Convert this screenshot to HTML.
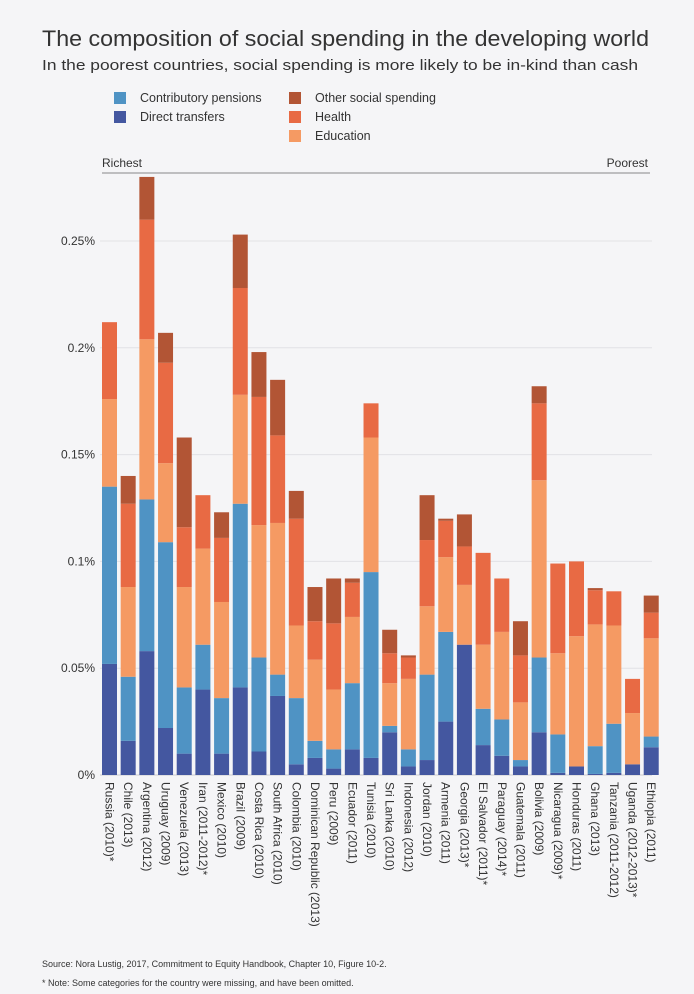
<!DOCTYPE html>
<html><head><meta charset="utf-8"><style>
html,body{margin:0;padding:0;background:#f5f5f7;}
body{width:694px;height:994px;position:relative;overflow:hidden;font-family:"Liberation Sans",sans-serif;color:#333;}
</style></head><body>
<svg width="694" height="994" xmlns="http://www.w3.org/2000/svg" id="chart" style="position:absolute;left:0;top:0">
<rect width="694" height="994" fill="#f5f5f7"/>
<text x="42" y="46" font-size="22" fill="#333" textLength="607" lengthAdjust="spacingAndGlyphs">The composition of social spending in the developing world</text>
<text x="42" y="70" font-size="14.5" fill="#333" textLength="596" lengthAdjust="spacingAndGlyphs">In the poorest countries, social spending is more likely to be in-kind than cash</text>
<g font-size="12.5" fill="#333">
<g><rect x="114" y="92" width="12" height="12" fill="#4f93c4"/><text x="140" y="102">Contributory pensions</text></g>
<g><rect x="114" y="111" width="12" height="12" fill="#4457a0"/><text x="140" y="121">Direct transfers</text></g>
<g><rect x="289" y="92" width="12" height="12" fill="#b25535"/><text x="315" y="102">Other social spending</text></g>
<g><rect x="289" y="111" width="12" height="12" fill="#e86a44"/><text x="315" y="121">Health</text></g>
<g><rect x="289" y="130" width="12" height="12" fill="#f59a63"/><text x="315" y="140">Education</text></g>
</g>
<text x="102" y="167" font-size="12" fill="#333">Richest</text>
<text x="648" y="167" font-size="12" fill="#333" text-anchor="end">Poorest</text>
<line x1="102" y1="173" x2="650" y2="173" stroke="#888" stroke-width="1"/>
<g id="grid"></g><g id="bars"></g><g id="xlabels"></g>
<text x="42" y="967" font-size="9" fill="#333">Source: Nora Lustig, 2017, Commitment to Equity Handbook, Chapter 10, Figure 10-2.</text>
<text x="42" y="986" font-size="9" fill="#333">* Note: Some categories for the country were missing, and have been omitted.</text>
</svg>
<script>
const categories=["Russia (2010)*","Chile (2013)","Argentina (2012)","Uruguay (2009)","Venezuela (2013)","Iran (2011-2012)*","Mexico (2010)","Brazil (2009)","Costa Rica (2010)","South Africa (2010)","Colombia (2010)","Dominican Republic (2013)","Peru (2009)","Ecuador (2011)","Tunisia (2010)","Sri Lanka (2010)","Indonesia (2012)","Jordan (2010)","Armenia (2011)","Georgia (2013)*","El Salvador (2011)*","Paraguay (2014)*","Guatemala (2011)","Bolivia (2009)","Nicaragua (2009)*","Honduras (2011)","Ghana (2013)","Tanzania (2011-2012)","Uganda (2012-2013)*","Ethiopia (2011)"];
const directTransfers=[.052,.016,.058,.022,.010,.040,.010,.041,.011,.037,.005,.008,.003,.012,.008,.020,.004,.007,.025,.061,.014,.009,.004,.020,.001,.004,.0005,.001,.005,.013];
const pensions=[.083,.030,.071,.087,.031,.021,.026,.086,.044,.010,.031,.008,.009,.031,.087,.003,.008,.040,.042,0,.017,.017,.003,.035,.018,0,.013,.023,0,.005];
const education=[.041,.042,.075,.037,.047,.045,.045,.051,.062,.071,.034,.038,.028,.031,.063,.020,.033,.032,.035,.028,.030,.041,.027,.083,.038,.061,.057,.046,.024,.046];
const health=[.036,.039,.056,.047,.028,.025,.030,.050,.060,.041,.050,.018,.031,.016,.016,.014,.010,.031,.017,.018,.043,.025,.022,.036,.042,.035,.016,.016,.016,.012];
const other=[0,.013,.020,.014,.042,0,.012,.025,.021,.026,.013,.016,.021,.002,0,.011,.001,.021,.001,.015,0,0,.016,.008,0,0,.001,0,0,.008];
const yTicks=[0,0.05,0.1,0.15,0.2,0.25];
const yTickLabels=["0%","0.05%","0.1%","0.15%","0.2%","0.25%"];
const series=[["direct",directTransfers,"#4457a0"],["pensions",pensions,"#4f93c4"],["education",education,"#f59a63"],["health",health,"#e86a44"],["other",other,"#b25535"]];
const NS="http://www.w3.org/2000/svg";
const y0=775,yScale=2136,x0=102,step=18.68,bw=15;
function yPos(v){return y0-v*yScale;}
function xPos(i){return x0+i*step;}
const grid=document.getElementById('grid');
yTicks.forEach((t,i)=>{
 const l=document.createElementNS(NS,'line');
 l.setAttribute('x1',100);l.setAttribute('x2',652);l.setAttribute('y1',yPos(t));l.setAttribute('y2',yPos(t));
 l.setAttribute('stroke',i===0?'#ccc':'#e2e2e6');
 
 
 grid.appendChild(l);
 const tx=document.createElementNS(NS,'text');
 tx.setAttribute('x',95);tx.setAttribute('y',yPos(t)+4);tx.setAttribute('text-anchor','end');tx.setAttribute('font-size','12');tx.setAttribute('fill','#333');
 tx.textContent=yTickLabels[i];
 
 
 grid.appendChild(tx);
});
const bars=document.getElementById('bars'),xl=document.getElementById('xlabels');
categories.forEach((c,i)=>{
 let cum=0;
 series.forEach(s=>{
  const v=s[1][i];
  if(v>0){
   const r=document.createElementNS(NS,'rect');
   r.setAttribute('x',xPos(i));r.setAttribute('width',bw);
   r.setAttribute('y',yPos(cum+v));r.setAttribute('height',v*yScale);
   r.setAttribute('fill',s[2]);
   
   
   bars.appendChild(r);
  }
  cum+=v;
 });
 const t=document.createElementNS(NS,'text');
 const cx=xPos(i)+bw/2-4;
 t.setAttribute('transform','translate('+cx+',782) rotate(90)');
 t.setAttribute('font-size','12');t.setAttribute('fill','#333');
 t.textContent=c;
 
 
 xl.appendChild(t);
});
</script>
</body></html>
